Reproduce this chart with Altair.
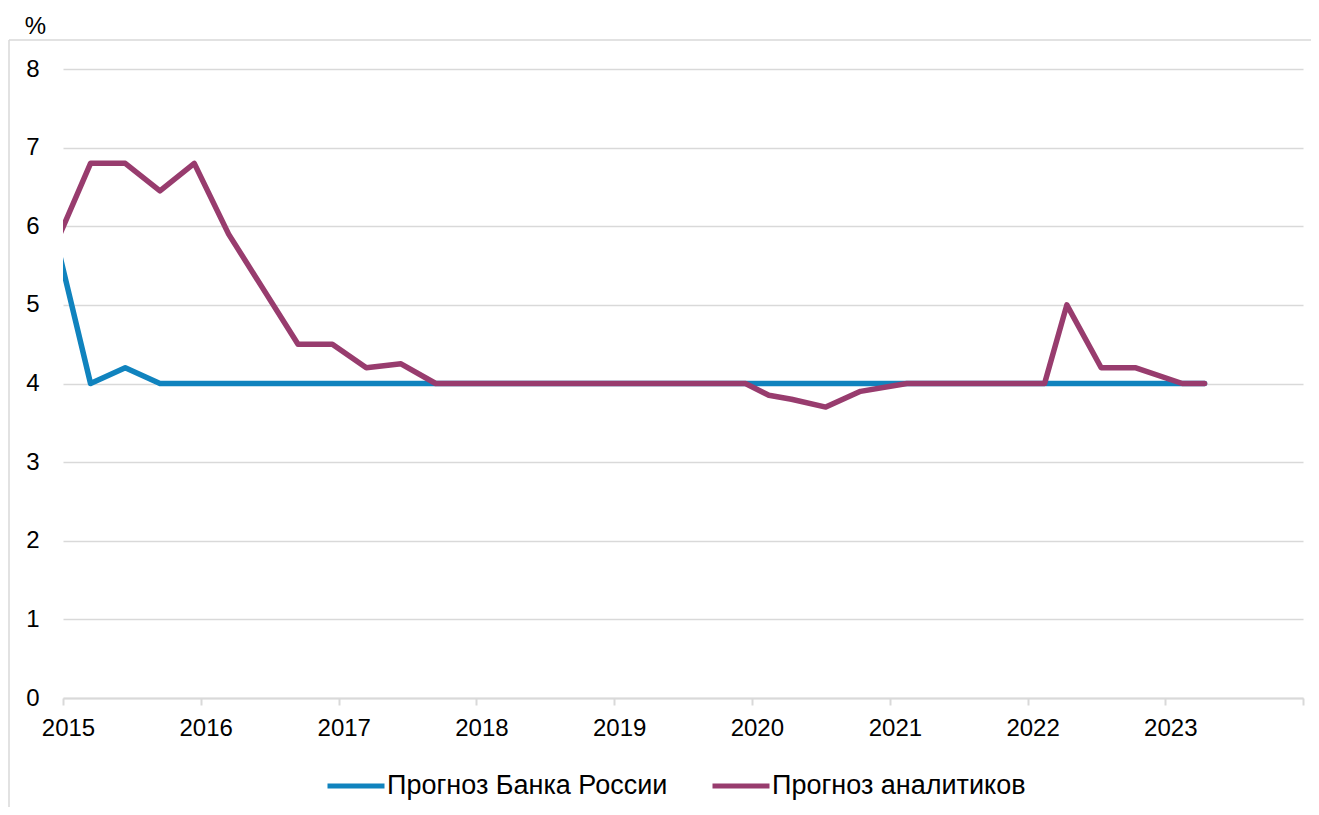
import altair as alt
import pandas as pd

# Forecast dates (approximate survey / report dates)
dates = [
    "2014-12-15", "2015-03-15", "2015-06-15", "2015-09-15", "2015-12-15",
    "2016-03-15", "2016-06-15", "2016-09-15", "2016-12-15",
    "2017-03-15", "2017-06-15", "2017-09-15", "2017-12-15",
    "2018-03-15", "2018-06-15", "2018-09-15", "2018-12-15",
    "2019-03-15", "2019-06-15", "2019-09-15", "2019-12-15",
    "2020-02-15", "2020-04-15", "2020-07-15", "2020-10-15",
    "2021-02-15", "2021-04-15", "2021-07-15", "2021-10-15",
    "2022-02-15", "2022-04-15", "2022-07-15", "2022-10-15",
    "2023-02-15", "2023-04-15",
]

bank_forecast = [
    5.8, 4.0, 4.2, 4.0, 4.0,
    4.0, 4.0, 4.0, 4.0,
    4.0, 4.0, 4.0, 4.0,
    4.0, 4.0, 4.0, 4.0,
    4.0, 4.0, 4.0, 4.0,
    4.0, 4.0, 4.0, 4.0,
    4.0, 4.0, 4.0, 4.0,
    4.0, 4.0, 4.0, 4.0,
    4.0, 4.0,
]

analyst_forecast = [
    5.8, 6.8, 6.8, 6.45, 6.8,
    5.9, 5.2, 4.5, 4.5,
    4.2, 4.25, 4.0, 4.0,
    4.0, 4.0, 4.0, 4.0,
    4.0, 4.0, 4.0, 4.0,
    3.85, 3.8, 3.7, 3.9,
    4.0, 4.0, 4.0, 4.0,
    4.0, 5.0, 4.2, 4.2,
    4.0, 4.0,
]

series_names = ["Прогноз Банка России", "Прогноз аналитиков"]
series_colors = ["#1083BE", "#983C6E"]
year_ticks = list(range(2015, 2025))
y_ticks = list(range(0, 9))

rows = []
for d, v in zip(dates, bank_forecast):
    rows.append({"date": d, "value": v, "series": series_names[0]})
for d, v in zip(dates, analyst_forecast):
    rows.append({"date": d, "value": v, "series": series_names[1]})
df = pd.DataFrame(rows)

lines = alt.Chart(df).mark_line(
    strokeWidth=5.5, clip=True, strokeJoin="round", strokeCap="round"
).encode(
    x=alt.X(
        "date:T",
        title=None,
        scale=alt.Scale(domain=[alt.DateTime(year=2015, month=1, date=1),
                                alt.DateTime(year=2024, month=1, date=1)]),
        axis=alt.Axis(
            values=[alt.DateTime(year=y, month=1, date=1) for y in year_ticks],
            labelExpr="year(datum.value) >= 2024 ? '' : timeFormat(datum.value, '%Y')",
            grid=False,
            domainColor="#d9d9d9",
            domainWidth=2,
            tickColor="#d9d9d9",
            tickWidth=2,
            tickSize=7,
            labelFontSize=24,
            labelColor="#000000",
            labelPadding=11,
            labelOffset=5,
            labelFlush=False,
            labelOverlap=False,
        ),
    ),
    y=alt.Y(
        "value:Q",
        scale=alt.Scale(domain=[0, 8], nice=False, zero=True),
        axis=alt.Axis(
            values=y_ticks,
            domain=False,
            ticks=False,
            labelFontSize=24,
            labelColor="#000000",
            labelPadding=24,
            gridColor="#d9d9d9",
            gridWidth=1.5,
            title="%",
            titleAngle=0,
            titleX=-28,
            titleY=-36,
            titleAlign="center",
            titleBaseline="alphabetic",
            titleFontSize=24,
            titleFontWeight="normal",
            titleColor="#000000",
        ),
    ),
    color=alt.Color(
        "series:N",
        scale=alt.Scale(domain=series_names, range=series_colors),
        legend=alt.Legend(
            orient="none",
            legendX=262,
            legendY=686,
            direction="horizontal",
            title=None,
            labelFontSize=27,
            labelColor="#000000",
            labelLimit=500,
            symbolType="stroke",
            symbolSize=3249,
            symbolStrokeWidth=5,
            labelOffset=0,
            columnPadding=34,
        ),
    ),
)

frame = pd.DataFrame({"k": [0]})
top_border = alt.Chart(frame).mark_rule(color="#d9d9d9", strokeWidth=1.5, clip=False).encode(
    x=alt.value(-54), x2=alt.value(1260), y=alt.value(-29)
)
left_border = alt.Chart(frame).mark_rule(color="#d9d9d9", strokeWidth=1.5, clip=False).encode(
    x=alt.value(-54), y=alt.value(-29), y2=alt.value(760)
)

chart = alt.layer(top_border, left_border, lines).properties(
    width=1240,
    height=629,
    padding={"left": 55, "top": 61, "right": 8, "bottom": 109},
    autosize="none",
    background="white",
).configure(
    font="Liberation Sans",
).configure_view(
    stroke=None,
)

chart.save("out.html", embed_options={"renderer": "svg", "actions": False})
